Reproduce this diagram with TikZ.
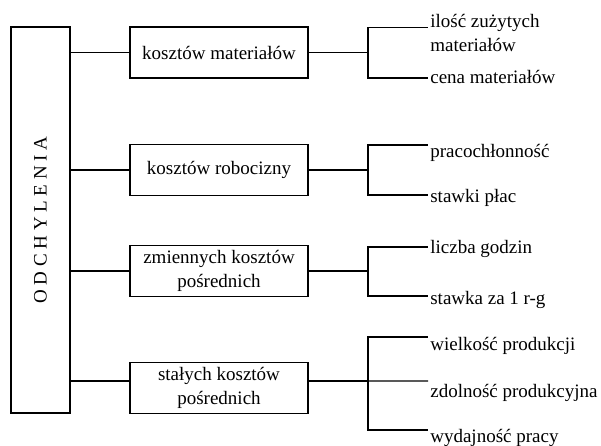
\documentclass[tikz,border=0pt]{standalone}
\usepackage{fontspec}
\setmainfont{Liberation Serif}
\usepackage{graphicx}
\usepackage{tikz}

\begin{document}
\begin{tikzpicture}[
  x=0.6pt, y=-0.6pt,
  every node/.style={font=\fontsize{11.4}{14.4}\selectfont},
  box/.style={draw, line width=0.85pt, align=center, minimum width=106.8pt, minimum height=30.6pt, inner sep=1pt},
  leaf/.style={align=left, inner xsep=1.2pt, inner ysep=0pt, anchor=base west},
  link/.style={line width=0.85pt}
]
\useasboundingbox (0,0) rectangle (601,445);

% Nodes
\node[draw, line width=0.85pt, minimum width=35.4pt, minimum height=231.6pt] (root) at (40.5,220) {\rotatebox{90}{O D C H Y L E N I A}};
\node[box] (mat) at (219,52.5) {kosztów materiałów};
\node[box] (rob) at (219,170) {kosztów robocizny};
\node[box] (zmien) at (219,271) {zmiennych kosztów\\pośrednich};
\node[box] (stale) at (219,388) {stałych kosztów\\pośrednich};

\node[leaf] (ilosc) at (428,51.5) {ilość zużytych\\materiałów};
\node[leaf] (cena) at (428,83) {cena materiałów};
\node[leaf] (praco) at (428,157) {pracochłonność};
\node[leaf] (place) at (428,202) {stawki płac};
\node[leaf] (godz) at (428,253) {liczba godzin};
\node[leaf] (stawka) at (428,304) {stawka za 1 r-g};
\node[leaf] (wielk) at (428,350) {wielkość produkcji};
\node[leaf] (zdoln) at (428,397) {zdolność produkcyjna};
\node[leaf] (wydaj) at (428,442) {wydajność pracy};

\coordinate (j1) at (368,52.5);
\coordinate (j2) at (368,170);
\coordinate (j3) at (368,271);
\coordinate (j4) at (368,381);

% Lines
\draw[link] (root.east |- mat) -- (mat);
\draw[link] (root.east |- rob) -- (rob);
\draw[link] (root.east |- zmien) -- (zmien);
\draw[link] (root.east |- j4) -- (stale.west |- j4);

\draw[link] (mat) -- (j1);
\draw[link] (rob) -- (j2);
\draw[link] (zmien) -- (j3);
\draw[link] (stale.east |- j4) -- (j4);

\draw[link] (j1) |- ([yshift=14.4pt]ilosc.base west);
\draw[link] (j1) |- ([yshift=3pt]cena.base west);
\draw[link] (j2) |- ([yshift=7.2pt]praco.base west);
\draw[link] (j2) |- ([yshift=4.2pt]place.base west);
\draw[link] (j3) |- ([yshift=3.6pt]godz.base west);
\draw[link] (j3) |- ([yshift=4.8pt]stawka.base west);
\draw[link] (j4) |- ([yshift=7.8pt]wielk.base west);
\draw[link] (j4) -- ([yshift=9.6pt]zdoln.base west);
\draw[link] (j4) |- ([yshift=7.2pt]wydaj.base west);

\end{tikzpicture}
\end{document}
